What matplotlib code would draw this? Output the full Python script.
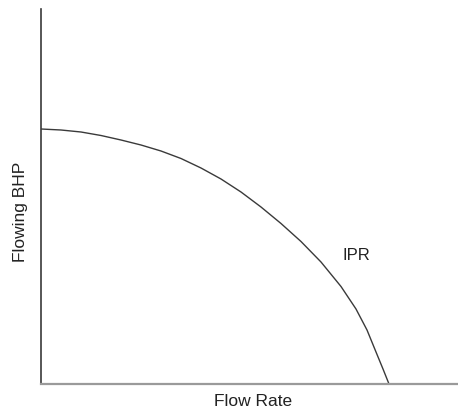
import matplotlib
matplotlib.use('Agg')
import matplotlib.pyplot as plt

# IPR curve (arbitrary units, origin at the axes corner)
flow_rate = [0, 20, 40, 60, 80, 100, 120, 140, 160, 180, 200, 220, 240,
             260, 280, 300, 315, 326, 335, 342, 348]
flowing_bhp = [255, 254, 252, 248.5, 244, 239, 233, 225.5, 216, 205, 192,
               177, 160.5, 142.5, 122, 97.5, 75, 54, 32, 15, 0]

W, H = 458, 412
plt.rcParams['font.family'] = ['Liberation Sans', 'DejaVu Sans']

fig = plt.figure(figsize=(W / 100, H / 100), dpi=100)
ax = fig.add_axes([41 / W, (H - 384) / H, (W - 41) / W, (384 - 9) / H])

ax.plot(flow_rate, flowing_bhp, color='#3a3a3a', linewidth=1.0)

ax.set_xlim(0, 417)
ax.set_ylim(0, 375)
ax.set_xticks([])
ax.set_yticks([])
for side in ('top', 'right'):
    ax.spines[side].set_visible(False)
ax.spines['left'].set_color('#3a3a3a')
ax.spines['left'].set_linewidth(1.2)
ax.spines['bottom'].set_color('#9a9a9a')
ax.spines['bottom'].set_linewidth(1.6)

ax.text(356 - 41, 384 - 256, 'IPR', fontsize=12, color='#222222',
        ha='center', va='center')

fig.text(21 / W, 1 - 212 / H, 'Flowing BHP', rotation=90, fontsize=12.5,
         color='#222222', ha='center', va='center')
fig.text(253 / W, 1 - 402 / H, 'Flow Rate', fontsize=12.5,
         color='#222222', ha='center', va='center')

fig.savefig('out.png', dpi=100)
